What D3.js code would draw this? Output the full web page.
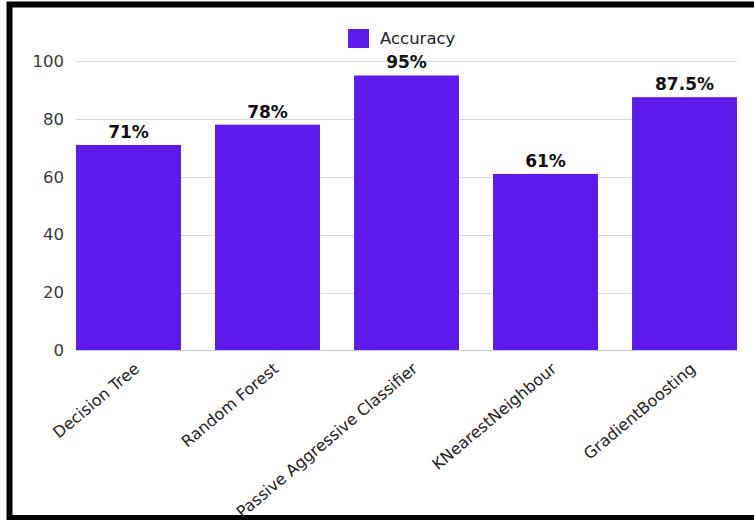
<!DOCTYPE html>
<html>
<head>
<meta charset="utf-8">
<script src="https://cdn.jsdelivr.net/npm/d3@7"></script>
<style>
  html, body { margin: 0; padding: 0; background: #fff; }
  svg { display: block; }
</style>
</head>
<body>
<svg id="chart" width="754" height="520"></svg>
<script>
// Model accuracy by classifier
const categories = ["Decision Tree", "Random Forest", "Passive Aggressive Classifier", "KNearestNeighbour", "GradientBoosting"];
const accuracy = [71, 78, 95, 61, 87.5];
const valueLabels = ["71%", "78%", "95%", "61%", "87.5%"];
const yTicks = [0, 20, 40, 60, 80, 100];
const seriesName = "Accuracy";

const svg = d3.select("#chart");
const barColor = "#5e1ae8";
const font = "'DejaVu Sans', Verdana, sans-serif";

// outer frame (runs off the right edge)
svg.append("rect")
  .attr("x", 9.5).attr("y", 4.5)
  .attr("width", 800).attr("height", 513.5)
  .attr("fill", "none").attr("stroke", "#000").attr("stroke-width", 6);

const x = d3.scaleBand()
  .domain(categories)
  .range([76, 737])
  .paddingInner(0.245)
  .paddingOuter(0);

const y = d3.scaleLinear()
  .domain([0, 100])
  .range([350.5, 61]);

// gridlines
svg.append("g")
  .selectAll("line")
  .data(yTicks.filter(d => d > 0))
  .join("line")
  .attr("x1", 76).attr("x2", 737)
  .attr("y1", d => Math.round(y(d)) + 0.5)
  .attr("y2", d => Math.round(y(d)) + 0.5)
  .attr("stroke", "#d9d9d9").attr("stroke-width", 1);

// y axis labels
const yAxis = d3.axisLeft(y).tickValues(yTicks).tickSize(0).tickPadding(0);
svg.append("g")
  .attr("transform", "translate(64,0)")
  .call(yAxis)
  .call(g => g.select(".domain").remove())
  .selectAll("text")
  .attr("font-family", font)
  .attr("font-size", 16.5)
  .attr("fill", "#3a3a3a");

// bars
svg.append("g")
  .selectAll("rect")
  .data(categories)
  .join("rect")
  .attr("x", d => x(d))
  .attr("width", x.bandwidth())
  .attr("y", (d, i) => y(accuracy[i]))
  .attr("height", (d, i) => y(0) - y(accuracy[i]))
  .attr("fill", barColor);

// baseline
svg.append("line")
  .attr("x1", 76).attr("x2", 737)
  .attr("y1", y(0)).attr("y2", y(0))
  .attr("stroke", "#c8c8c8").attr("stroke-width", 1);

// value labels
svg.append("g")
  .selectAll("text")
  .data(categories)
  .join("text")
  .attr("x", d => x(d) + x.bandwidth() / 2)
  .attr("y", (d, i) => y(accuracy[i]) - 7)
  .attr("text-anchor", "middle")
  .attr("font-family", font)
  .attr("font-weight", "bold")
  .attr("font-size", 17)
  .attr("fill", "#111")
  .text((d, i) => valueLabels[i]);

// category labels, rotated
const xAxis = d3.axisBottom(x).tickSize(0).tickPadding(0);
svg.append("g")
  .attr("transform", `translate(0,${y(0)})`)
  .call(xAxis)
  .call(g => g.select(".domain").remove())
  .selectAll("text")
  .attr("font-family", font)
  .attr("font-size", 16)
  .attr("fill", "#222")
  .attr("text-anchor", "end")
  .attr("dy", 0)
  .attr("transform", "translate(12,20) rotate(-40)");

// legend
const legend = svg.append("g").attr("transform", "translate(348,29)");
legend.append("rect")
  .attr("width", 21).attr("height", 19)
  .attr("fill", barColor);
legend.append("text")
  .attr("x", 32).attr("y", 15)
  .attr("font-family", font)
  .attr("font-size", 16.5)
  .attr("fill", "#222")
  .text(seriesName);
</script>
</body>
</html>
